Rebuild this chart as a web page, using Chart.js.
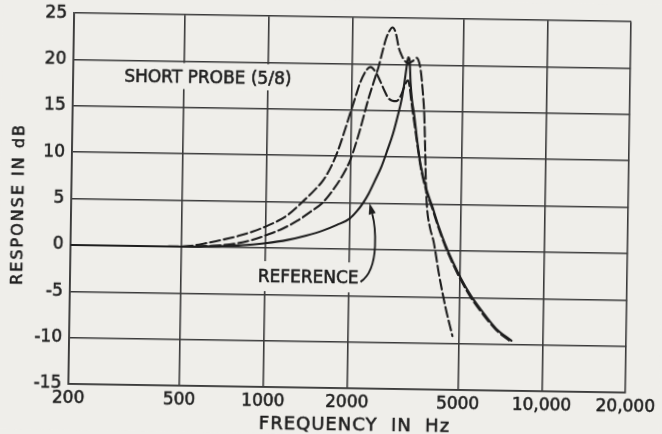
<!DOCTYPE html>
<html>
<head>
<meta charset="utf-8">
<script src="https://cdn.jsdelivr.net/npm/chart.js@4.4.1/dist/chart.umd.min.js"></script>
<style>
  html, body { margin: 0; padding: 0; width: 662px; height: 434px; overflow: hidden; background: #efeeea; }
  #sheet { display: block; width: 662px; height: 434px; background: #efeeea;
           transform: rotate(0.89deg); transform-origin: 331px 217px; }
</style>
</head>
<body>
<canvas id="sheet" width="662" height="434"></canvas>
<script>
// Axis ticks
const freqTicks = [200, 500, 1000, 2000, 5000, 10000, 20000];
const freqTickLabels = ['200', '500', '1000', '2000', '5000', '10,000', '20,000'];
const dbMin = -15;
const dbMax = 25;
const dbStep = 5;

// Reference response (solid)
const referenceFreq = [200, 300, 400, 500, 600, 700, 800, 900, 1000, 1200, 1400, 1600, 1800, 2000, 2120, 2230, 2340, 2450, 2580, 2720, 2830, 2940, 3030, 3090, 3140, 3180, 3215, 3254, 3300, 3370, 3470, 3580, 3750, 3950, 4180, 4420, 4720, 5066, 5500, 5970, 6800, 7740];
const referenceDb   = [0, 0, 0, 0, 0.05, 0.12, 0.22, 0.34, 0.5, 0.9, 1.4, 1.95, 2.6, 3.3, 4.1, 5.0, 6.1, 7.4, 8.9, 10.9, 12.5, 14.5, 16.3, 18.0, 19.7, 20.8, 20.6, 18.0, 16.2, 14.5, 11.6, 9.1, 6.7, 4.8, 2.6, 0.7, -1.2, -3.0, -4.8, -6.25, -8.3, -9.6];

// Short probe, first dashed curve (double peak)
const probeAFreq = [200, 400, 500, 540, 600, 700, 800, 900, 1000, 1100, 1200, 1350, 1500, 1600, 1700, 1800, 1900, 1975, 2060, 2146, 2240, 2330, 2430, 2530, 2620, 2707, 2800, 2900, 3000, 3080, 3150, 3190, 3230, 3290, 3370, 3470, 3580, 3750, 3950, 4180, 4420, 4720, 5066, 5500, 5970, 6800, 7650];
const probeADb   = [0, 0, 0.02, 0.1, 0.35, 0.8, 1.25, 1.75, 2.3, 2.9, 3.6, 5.0, 6.4, 7.4, 8.8, 10.6, 12.8, 14.5, 16.3, 18.0, 19.2, 19.7, 19.2, 18.2, 17.2, 16.4, 16.1, 16.05, 16.6, 17.5, 18.2, 18.3, 17.6, 15.8, 13.8, 11.3, 8.85, 6.5, 4.6, 2.4, 0.5, -1.4, -3.2, -5.0, -6.45, -8.45, -9.65];

// Short probe, second dashed curve (tall peak)
const probeBFreq = [200, 400, 500, 560, 650, 773, 900, 1000, 1150, 1300, 1450, 1600, 1750, 1880, 2000, 2146, 2298, 2400, 2496, 2570, 2636, 2710, 2784, 2860, 2939, 3000, 3060, 3180, 3300, 3410, 3480, 3540, 3600, 3660, 3700, 3740, 3790, 3880, 4020, 4225, 4480, 4750];
const probeBDb   = [0, 0, 0, 0.05, 0.15, 0.4, 0.85, 1.35, 2.1, 3.0, 4.0, 5.0, 6.5, 8.0, 9.7, 12.7, 16.2, 18.1, 19.8, 21.4, 22.7, 23.6, 24.0, 23.4, 21.8, 21.1, 20.6, 20.15, 20.4, 20.75, 20.3, 19.2, 17.2, 14.5, 11.0, 7.2, 4.5, 2.6, 0.9, -2.7, -6.25, -9.2];

const paper = '#efeeea';
const ink = '#1e1e1e';
const gridInk = '#3a3a3a';
const letterStroke = 0.55;

const toPoints = (fs, ds) => fs.map((f, i) => ({ x: f, y: ds[i] }));

// Lettering placed in data coordinates
const captions = [
  { text: 'SHORT PROBE (5/8)', f: 609, db: 18.4, maskH: 26, padX: 4 },
  { text: 'REFERENCE', f: 1431, db: -3.04, maskH: 30, padX: 3 }
];
const pointer = { start: [2206, -3.5], c1: [2617, -2.0], c2: [2457, 2.95], tip: [2353, 5.0] };

function letter(ctx, text, px, py) {
  ctx.fillText(text, px, py);
  ctx.strokeText(text, px, py);
}

const notesPlugin = {
  id: 'notes',
  afterDraw(chart) {
    const { ctx, scales: { x, y } } = chart;
    ctx.save();
    ctx.strokeStyle = ink;
    ctx.lineWidth = letterStroke;
    // Captions with paper mask behind them
    ctx.font = '17px "DejaVu Sans"';
    ctx.textAlign = 'center';
    ctx.textBaseline = 'alphabetic';
    for (const c of captions) {
      const px = x.getPixelForValue(c.f);
      const py = y.getPixelForValue(c.db);
      const w = ctx.measureText(c.text).width;
      ctx.fillStyle = paper;
      ctx.fillRect(px - w / 2 - c.padX, py - c.maskH / 2, w + 2 * c.padX, c.maskH);
      ctx.fillStyle = ink;
      letter(ctx, c.text, px, py + 17 * 0.365);
    }
    // Curved pointer from the REFERENCE caption
    const P = (p) => [x.getPixelForValue(p[0]), y.getPixelForValue(p[1])];
    const s = P(pointer.start), a = P(pointer.c1), b = P(pointer.c2), t = P(pointer.tip);
    const ang = Math.atan2(t[1] - b[1], t[0] - b[0]);
    const headLen = 11, headHalf = 3.6;
    const baseX = t[0] - Math.cos(ang) * headLen, baseY = t[1] - Math.sin(ang) * headLen;
    ctx.lineWidth = 1.9;
    ctx.beginPath();
    ctx.moveTo(s[0], s[1]);
    ctx.bezierCurveTo(a[0], a[1], b[0], b[1], baseX, baseY);
    ctx.stroke();
    ctx.fillStyle = ink;
    ctx.beginPath();
    ctx.moveTo(t[0], t[1]);
    ctx.lineTo(baseX + Math.sin(ang) * headHalf, baseY - Math.cos(ang) * headHalf);
    ctx.lineTo(baseX - Math.sin(ang) * headHalf, baseY + Math.cos(ang) * headHalf);
    ctx.closePath();
    ctx.fill();

    // Axis titles
    ctx.lineWidth = letterStroke;
    ctx.fillStyle = ink;
    ctx.textAlign = 'center';
    ctx.letterSpacing = '2px';
    ctx.font = '16px "DejaVu Sans"';
    ctx.save();
    ctx.translate(16.8 + 16 * 0.365, 209.9);
    ctx.rotate(-Math.PI / 2);
    letter(ctx, 'RESPONSE IN dB', 1, 0);
    ctx.restore();
    ctx.letterSpacing = '1px';
    ctx.font = '18px "DejaVu Sans"';
    letter(ctx, 'FREQUENCY  IN  Hz', 357.7, 423.6 + 18 * 0.365);
    ctx.restore();
  }
};

new Chart(document.getElementById('sheet'), {
  type: 'line',
  data: {
    datasets: [
      { label: 'Reference', data: toPoints(referenceFreq, referenceDb), borderColor: ink, borderWidth: 2.1 },
      { label: 'Short probe A', data: toPoints(probeAFreq, probeADb), borderColor: ink, borderWidth: 2.1, borderDash: [10, 4] },
      { label: 'Short probe B', data: toPoints(probeBFreq, probeBDb), borderColor: ink, borderWidth: 2.1, borderDash: [10, 4] }
    ]
  },
  options: {
    responsive: false,
    animation: false,
    devicePixelRatio: 1,
    events: [],
    layout: { padding: { top: 16.5, right: 29, bottom: 0, left: 0 } },
    elements: {
      point: { radius: 0 },
      line: { cubicInterpolationMode: 'monotone', fill: false, borderCapStyle: 'round', borderJoinStyle: 'round' }
    },
    plugins: { legend: { display: false }, tooltip: { enabled: false } },
    scales: {
      x: {
        type: 'logarithmic',
        min: freqTicks[0],
        max: freqTicks[freqTicks.length - 1],
        afterBuildTicks(s) { s.ticks = freqTicks.map(v => ({ value: v })); },
        afterFit(s) { s.height = 46; },
        grid: { color: gridInk, lineWidth: 1.6, drawTicks: false },
        border: { color: gridInk, width: 1.8 },
        ticks: {
          autoSkip: false, maxRotation: 0, padding: 4, color: ink,
          textStrokeColor: ink, textStrokeWidth: letterStroke,
          font: { family: 'DejaVu Sans', size: 17 },
          callback: (v, i) => freqTickLabels[i]
        }
      },
      y: {
        type: 'linear',
        min: dbMin,
        max: dbMax,
        afterFit(s) { s.width = 71; },
        grid: { color: gridInk, lineWidth: 1.6, drawTicks: false },
        border: { color: gridInk, width: 1.8 },
        ticks: {
          stepSize: dbStep, padding: 7, color: ink,
          textStrokeColor: ink, textStrokeWidth: letterStroke,
          font: { family: 'DejaVu Sans', size: 17 },
          callback: (v) => String(v)
        }
      }
    }
  },
  plugins: [notesPlugin]
});
</script>
</body>
</html>
